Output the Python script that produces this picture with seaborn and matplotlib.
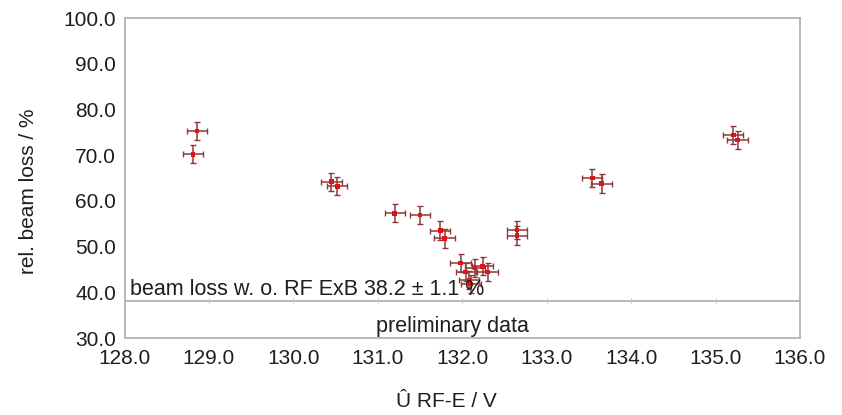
import matplotlib
matplotlib.use("Agg")
import matplotlib.pyplot as plt
import seaborn as sns
import pandas as pd

# data
u_rf = [128.81, 128.86, 130.45, 130.52, 131.20, 131.50, 131.74, 131.79,
        131.98, 132.04, 132.08, 132.10, 132.15, 132.24, 132.30,
        132.65, 132.65, 133.54, 133.65, 135.21, 135.26]
beam_loss = [70.2, 75.3, 64.2, 63.2, 57.3, 56.9, 53.5, 51.8,
             46.4, 44.4, 42.7, 41.8, 45.3, 45.7, 44.4,
             53.6, 52.4, 65.0, 63.8, 74.4, 73.3]
x_err = [0.12] * len(u_rf)
y_err = [2.0] * len(u_rf)
baseline = 38.2
baseline_err = 1.1
x_ticks = [128.0, 129.0, 130.0, 131.0, 132.0, 133.0, 134.0, 135.0, 136.0]
y_ticks = [30.0, 40.0, 50.0, 60.0, 70.0, 80.0, 90.0, 100.0]

df = pd.DataFrame({"u": u_rf, "loss": beam_loss, "xe": x_err, "ye": y_err})

sns.set_style("white")
plt.rcParams["font.family"] = ["Liberation Sans", "DejaVu Sans"]

FS = 15
TXT = "#1e1e1e"

fig = plt.figure(figsize=(8.42, 4.15), dpi=100)
ax = fig.add_axes([0.1479, 0.1855, 0.8022, 0.7711])

ax.errorbar(df["u"], df["loss"], xerr=df["xe"], yerr=df["ye"], fmt="none",
            ecolor="#8a3a3a", elinewidth=1.1, capsize=2.5, capthick=1.0, zorder=2)
sns.scatterplot(data=df, x="u", y="loss", ax=ax, color="#e3101a", marker="s",
                s=11, edgecolor="none", zorder=3, legend=False)

ax.axhline(baseline, color="#b3b3b3", lw=1.3, zorder=1)
ax.vlines(x_ticks[1:-1], baseline - 0.6, baseline + 0.6, color="#c8c8c8", lw=0.9, zorder=1)

ax.text(128.07, baseline + 0.1, f"beam loss w. o. RF ExB {baseline} \u00b1 {baseline_err} %",
        fontsize=FS + 0.5, color=TXT, va="bottom", ha="left", zorder=4)
ax.text(0.485, 32.5, "preliminary data", transform=ax.get_yaxis_transform(),
        fontsize=FS + 0.5, color=TXT, ha="center", va="center")

ax.set_xlim(128.0, 136.0)
ax.set_ylim(30.0, 100.0)
ax.set_xticks(x_ticks)
ax.set_yticks(y_ticks)
ax.set_xticklabels([f"{t:.1f}" for t in x_ticks], fontsize=FS, color=TXT)
ax.set_yticklabels([f"{t:.1f}" for t in y_ticks], fontsize=FS, color=TXT)
ax.tick_params(axis="x", direction="inout", length=6, width=0.9, color="#b3b3b3", pad=5)
ax.tick_params(axis="y", direction="out", length=3, width=0.9, color="#b3b3b3", pad=3)

for s in ax.spines.values():
    s.set_color("#b3b3b3")
    s.set_linewidth(1.3)

ax.set_xlabel("\u00db RF-E / V", fontsize=FS, color=TXT)
ax.xaxis.set_label_coords(0.476, -0.168)
ax.set_ylabel("rel. beam loss / %", fontsize=FS, color=TXT)
ax.yaxis.set_label_coords(-0.128, 0.46)

fig.savefig("out.png", dpi=100)
